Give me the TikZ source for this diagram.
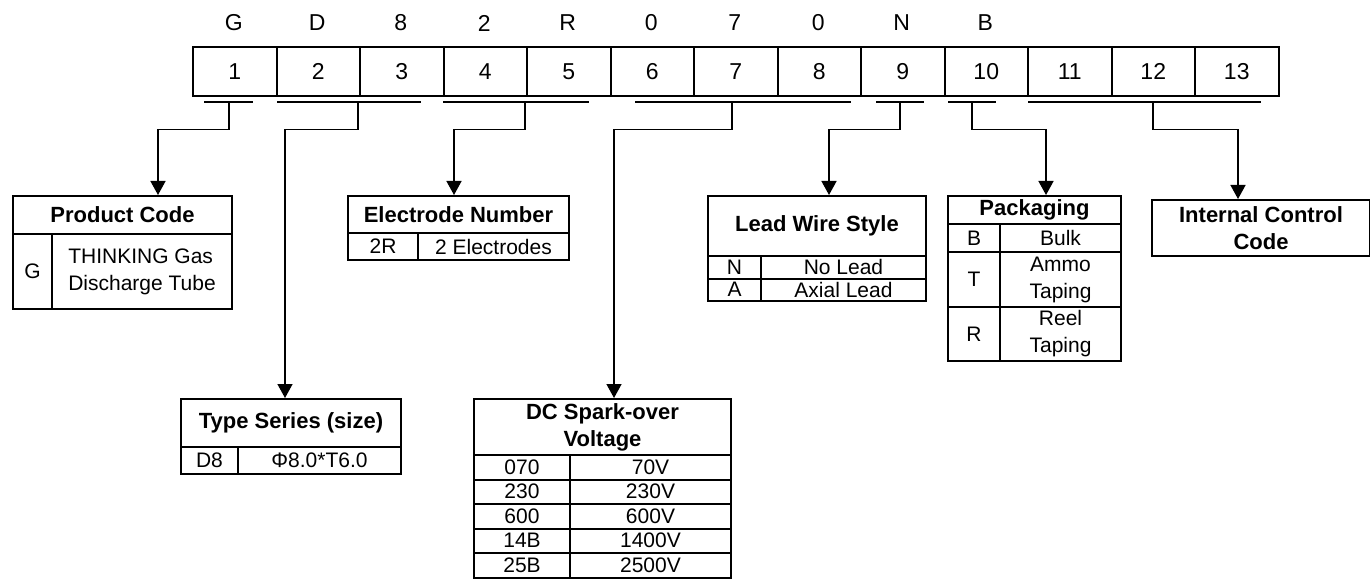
\documentclass[tikz,border=0pt]{standalone}
\usepackage{fontspec}
\setmainfont{Liberation Sans}
\usetikzlibrary{arrows.meta}
\newcommand{\bodyfont}{\fontsize{21}{27}\selectfont}
\newcommand{\headfont}{\fontsize{22}{27}\selectfont\bfseries}
\newcommand{\digitfont}{\fontsize{23}{28}\selectfont}
\tikzset{
  cell/.style={draw, line width=2pt, inner sep=0pt, anchor=north west, align=center, font=\bodyfont},
  head/.style={cell, font=\headfont},
  feed/.style={line width=1.5pt, -{Triangle[width=15pt,length=14pt]}},
  uline/.style={line width=1.5pt}
}
% [style]{name}{x}{y}{width}{height}{text}
\newcommand{\cellat}[7][cell]{
  \node[#1, minimum width=#5pt, minimum height=#6pt] (#2) at ({#3},{#4}) {#7};
}

\begin{document}
\begin{tikzpicture}[x=1pt,y=-1pt]
  \useasboundingbox (0,0) rectangle (1370,588);

  % code positions
  \foreach \i in {1,...,13}{
    \node[cell, font=\digitfont, minimum width=83.5pt, minimum height=49pt] (c\i) at ({192+83.5*(\i-1)},46) {\i};
  }
  \foreach \t [count=\i] in {G,D,8,2,R,0,7,0,N,B}{
    \node[font=\digitfont] (l\i) at ({192+83.5*(\i-0.5)},23) {\t};
  }
  \foreach \a/\b/\m [count=\i] in {204/253/229,277/421/358,443/589/525,635/851/732,876/924/900,948/996/972,1028/1261/1153}{
    \coordinate (ua\i) at (\a,102);
    \coordinate (ub\i) at (\b,102);
    \coordinate (u\i) at (\m,102);
    \draw[uline] (ua\i) -- (ub\i);
  }

  % product code
  \cellat[head]{pc}{12}{195}{219}{38}{Product Code}
  \cellat{pcG}{12}{233}{39}{75}{G}
  \cellat[cell, align=left]{pcT}{51}{233}{180}{75}{THINKING Gas\\Discharge Tube}

  % type series
  \cellat[head]{ts}{180}{398}{220}{48}{Type Series (size)}
  \cellat{tsD}{180}{446}{57}{27}{D8}
  \cellat{tsS}{237}{446}{163}{27}{Φ8.0*T6.0}

  % electrodes
  \cellat[head]{en}{347}{195}{221}{37}{Electrode Number}
  \cellat{enR}{347}{232}{70}{27}{2R}
  \cellat{enE}{417}{232}{151}{27}{2 Electrodes}

  % spark-over voltage
  \cellat[head]{dc}{473}{398}{257}{56}{DC Spark-over\\Voltage}
  \foreach \c/\v [count=\i] in {070/70V,230/230V,600/600V,14B/1400V,25B/2500V}{
    \cellat{dcc\i}{473}{454+24.5*(\i-1)}{96}{24.5}{\c}
    \cellat{dcv\i}{569}{454+24.5*(\i-1)}{161}{24.5}{\v}
  }

  % lead wire
  \cellat[head]{lw}{707}{195}{218}{60}{Lead Wire Style}
  \cellat{lwN}{707}{255}{53}{22.5}{N}
  \cellat{lwNt}{760}{255}{165}{22.5}{No Lead}
  \cellat{lwA}{707}{277.5}{53}{22.5}{A}
  \cellat{lwAt}{760}{277.5}{165}{22.5}{Axial Lead}

  % packaging
  \cellat[head]{pk}{947}{195}{173}{28}{Packaging}
  \cellat{pkB}{947}{223}{52}{28}{B}
  \cellat{pkBt}{999}{223}{121}{28}{Bulk}
  \cellat{pkT}{947}{251}{52}{55}{T}
  \cellat{pkTt}{999}{251}{121}{55}{Ammo\\Taping}
  \cellat{pkR}{947}{306}{52}{54}{R}
  \cellat{pkRt}{999}{306}{121}{54}{Reel\\Taping}

  % internal control
  \cellat[head]{ic}{1151}{199}{218}{56}{Internal Control\\Code}

  % feeds
  \foreach \n/\x in {pc/158,ts/285,en/454,dc/614,lw/829,pk/1046,ic/1238}{
    \coordinate (x\n) at (\x,0);
  }
  \draw[feed] (u1) -- ++(0,27.5) -| (pc.north -| xpc);
  \draw[feed] (u2) -- ++(0,27.5) -| (ts.north -| xts);
  \draw[feed] (u3) -- ++(0,27.5) -| (en.north -| xen);
  \draw[feed] (u4) -- ++(0,27.5) -| (dc.north -| xdc);
  \draw[feed] (u5) -- ++(0,27.5) -| (lw.north -| xlw);
  \draw[feed] (u6) -- ++(0,27.5) -| (pk.north -| xpk);
  \draw[feed] (u7) -- ++(0,27.5) -| (ic.north -| xic);
\end{tikzpicture}
\end{document}
